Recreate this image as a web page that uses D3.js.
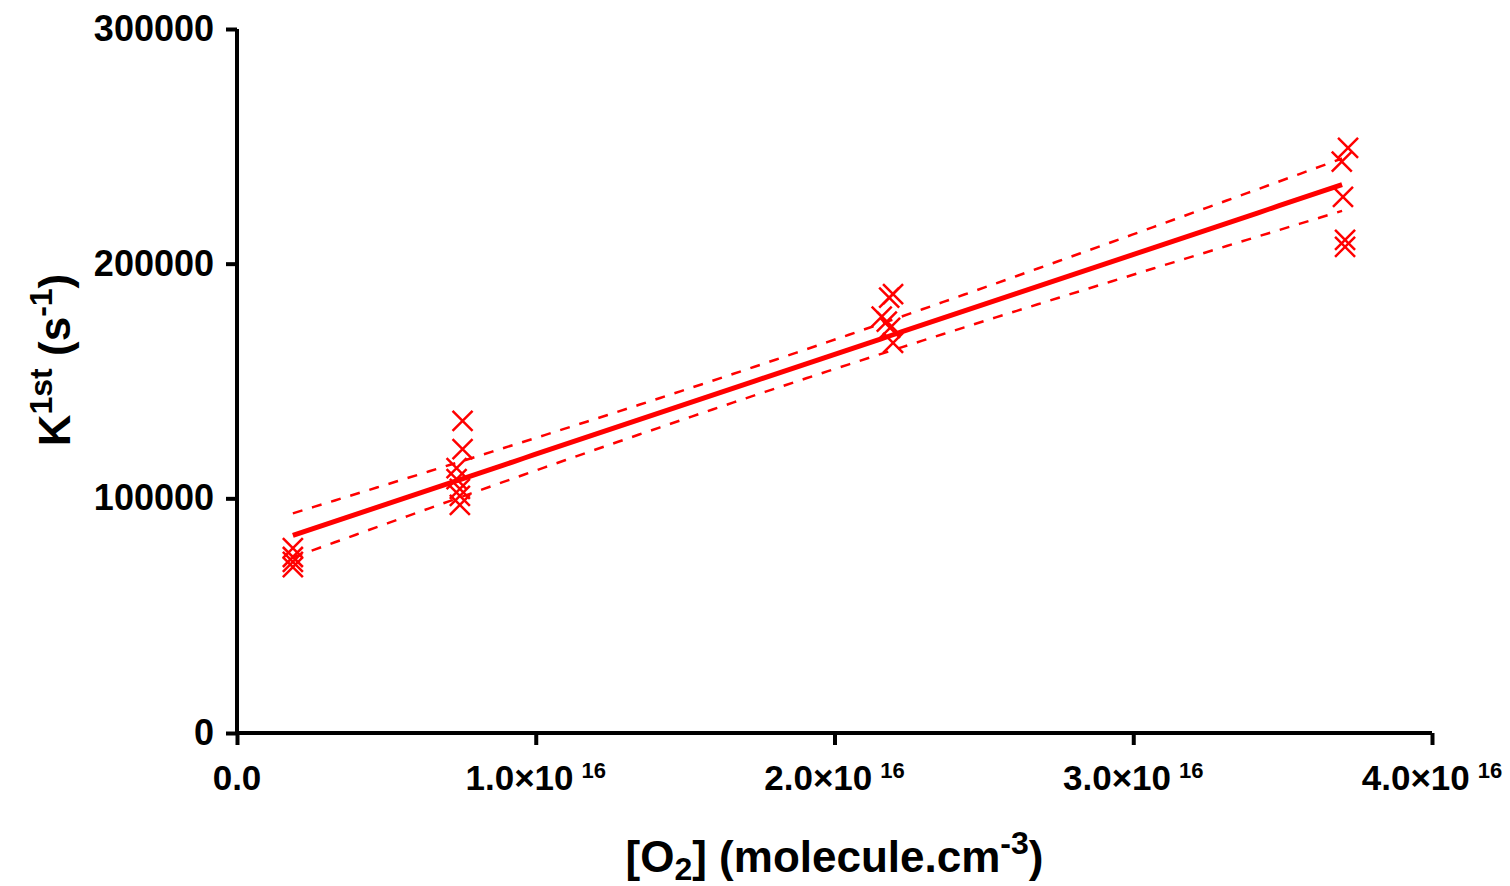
<!DOCTYPE html>
<html>
<head>
<meta charset="utf-8">
<script src="https://cdn.jsdelivr.net/npm/d3@7"></script>
<style>
    body { margin: 0; background: #fff; }
    svg { display: block; font-family: "Liberation Sans", Arial, sans-serif; font-weight: bold; }
</style>
</head>
<body>
<div id="chart"></div>
<script>
// [O2] in units of 1e15 molecule.cm-3, with measured first-order rates (s-1)
var o2 = [1.87, 1.87, 1.87, 1.87,
    7.55, 7.55, 7.35, 7.35, 7.46, 7.46, 7.46,
    21.96, 21.83, 21.58, 21.75, 21.86, 21.96,
    37.19, 36.98, 37.02, 37.09, 37.09];
var k1st = [78800, 75000, 72900, 70700,
    133000, 121000, 112900, 108200, 104000, 101000, 97200,
    187000, 185500, 177400, 175300, 172600, 166200,
    249300, 243500, 228500, 210100, 207200];
var xTicks = [0, 10, 20, 30, 40];
var yTicks = [0, 100000, 200000, 300000];
var tCrit = 2.086; // 95% two-sided, df = 20

var width = 1510, height = 886;
var margin = { left: 237, right: 78, top: 29, bottom: 153 };

var svg = d3.select("#chart").append("svg")
    .attr("width", width)
    .attr("height", height);

var x = d3.scaleLinear().domain([0, 40]).range([margin.left, width - margin.right]);
var y = d3.scaleLinear().domain([0, 300000]).range([height - margin.bottom, margin.top]);

// least squares fit and 95% confidence band
var n = o2.length;
var mx = d3.mean(o2), my = d3.mean(k1st);
var sxx = d3.sum(o2, function (d) { return (d - mx) * (d - mx); });
var sxy = d3.sum(o2, function (d, i) { return (d - mx) * (k1st[i] - my); });
var slope = sxy / sxx;
var intercept = my - slope * mx;
var sse = d3.sum(o2, function (d, i) { var r = k1st[i] - (intercept + slope * d); return r * r; });
var s = Math.sqrt(sse / (n - 2));

var xs = d3.range(101).map(function (i) {
    var lo = d3.min(o2), hi = d3.max(o2) - 0.2;
    return lo + (hi - lo) * i / 100;
});
function band(sign) {
    return xs.map(function (xv) {
        var se = s * Math.sqrt(1 / n + (xv - mx) * (xv - mx) / sxx);
        return [xv, intercept + slope * xv + sign * tCrit * se];
    });
}
var line = d3.line().x(function (d) { return x(d[0]); }).y(function (d) { return y(d[1]); });

[1, -1].forEach(function (sign) {
    svg.append("path")
        .attr("d", line(band(sign)))
        .attr("fill", "none").attr("stroke", "#ff0000").attr("stroke-width", 2.5)
        .attr("stroke-dasharray", "10,10");
});
svg.append("path")
    .attr("d", line(xs.map(function (xv) { return [xv, intercept + slope * xv]; })))
    .attr("fill", "none").attr("stroke", "#ff0000").attr("stroke-width", 5);

// cross markers
var r = 10;
svg.append("g").selectAll("path")
    .data(o2)
    .enter()
    .append("path")
    .attr("d", function (d, i) {
        var cx = x(d), cy = y(k1st[i]);
        return "M" + (cx - r) + "," + (cy - r) + "L" + (cx + r) + "," + (cy + r) +
            "M" + (cx - r) + "," + (cy + r) + "L" + (cx + r) + "," + (cy - r);
    })
    .attr("stroke", "#ff0000")
    .attr("stroke-width", 2.5)
    .attr("fill", "none");

// axes
var yAxis = svg.append("g")
    .attr("transform", "translate(" + margin.left + ",0)")
    .call(d3.axisLeft(y).tickValues(yTicks).tickSize(11).tickPadding(12).tickFormat(d3.format("d")));
var xAxis = svg.append("g")
    .attr("transform", "translate(0," + (height - margin.bottom) + ")")
    .call(d3.axisBottom(x).tickValues(xTicks).tickSize(12).tickFormat(""));

[yAxis, xAxis].forEach(function (g) {
    g.select(".domain").attr("stroke", "#000").attr("stroke-width", 4);
    g.selectAll(".tick line").attr("stroke", "#000").attr("stroke-width", 4);
});
yAxis.select(".domain").attr("d", "M0," + y(300000) + "V" + y(0));
xAxis.select(".domain").attr("d", "M" + x(0) + ",0H" + x(40));
yAxis.selectAll(".tick text")
    .attr("font-size", 36).attr("font-weight", "bold").attr("fill", "#000")
    .attr("font-family", "Liberation Sans, Arial, sans-serif");

// x tick labels with superscript exponent
xTicks.forEach(function (t) {
    var label = svg.append("text")
        .attr("x", x(t))
        .attr("y", height - margin.bottom + 57)
        .attr("text-anchor", "middle")
        .attr("font-size", 35)
        .attr("fill", "#000");
    if (t === 0) {
        label.text("0.0");
    } else {
        label.append("tspan").text((t / 10).toFixed(1) + "\u00d710");
        label.append("tspan").attr("font-size", 22).attr("dx", 8).attr("dy", -12).text("16");
    }
});

// axis titles
var xt = svg.append("text")
    .attr("x", (x(0) + x(40)) / 2)
    .attr("y", 872)
    .attr("text-anchor", "middle")
    .attr("font-size", 44)
    .attr("fill", "#000");
xt.append("tspan").text("[O");
xt.append("tspan").attr("font-size", 32).attr("dy", 8).text("2");
xt.append("tspan").attr("dy", -8).text("] (molecule.cm");
xt.append("tspan").attr("font-size", 32).attr("dy", -18).text("-3");
xt.append("tspan").attr("dy", 18).text(")");

var yt = svg.append("text")
    .attr("transform", "translate(70,360) rotate(-90)")
    .attr("text-anchor", "middle")
    .attr("font-size", 44)
    .attr("fill", "#000");
yt.append("tspan").text("K");
yt.append("tspan").attr("font-size", 32).attr("dy", -18).text("1st");
yt.append("tspan").attr("dy", 18).text(" (s");
yt.append("tspan").attr("font-size", 32).attr("dy", -18).text("-1");
yt.append("tspan").attr("dy", 18).text(")");
</script>
</body>
</html>
